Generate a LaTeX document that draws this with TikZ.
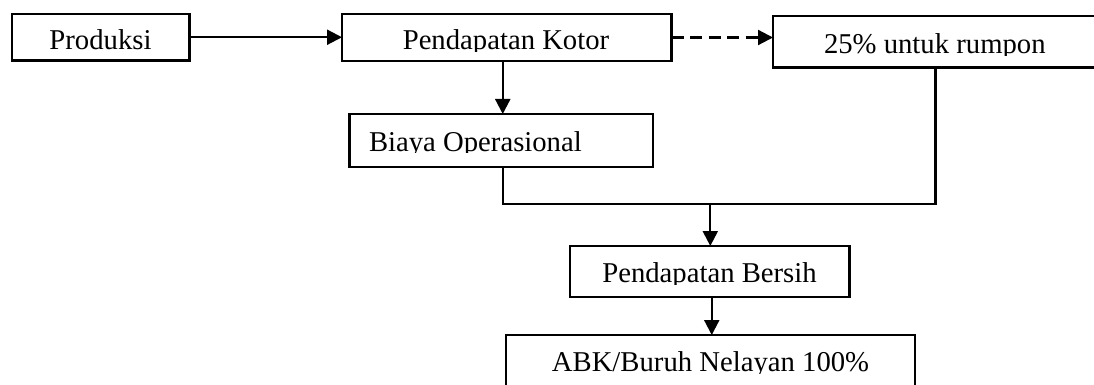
\documentclass[tikz,border=0pt]{standalone}
\usepackage{fontspec}
\setmainfont{Liberation Serif}
\usetikzlibrary{arrows.meta}
\tikzset{
  box/.style={draw, line width=2.2pt, inner sep=0pt, outer sep=0pt, anchor=north west},
  txt/.style={inner sep=0pt, outer sep=0pt, font=\fontsize{28.7pt}{32pt}\selectfont},
  conn/.style={line width=2.2pt},
  arr/.style={conn, -{Triangle[length=15pt,width=15pt]}},
  dashline/.style={dash pattern=on 12pt off 6.5pt}
}
\newcommand\clippedtext[5]{% name, x, baseline y, clip y, anchor ; text in #5
  \begin{scope}
    \clip (0,0) rectangle (1094,#4);
    \node[txt, anchor=#1] (#2) at #3 {#5};
  \end{scope}}
\begin{document}
\begin{tikzpicture}[x=1pt,y=-1pt]
\useasboundingbox (0,0) rectangle (1094,385);
\fill[white] (0,0) rectangle (1094,385);
\clip (0,0) rectangle (1094,385);

% boxes
\node[box, minimum width=177.5pt, minimum height=46.5pt] (prod) at (12,14) {};
\node[box, minimum width=329.5pt, minimum height=47pt] (kotor) at (342,14) {};
\node[box, minimum width=337pt, minimum height=51.5pt] (rump) at (773,16) {};
\node[box, minimum width=303.5pt, minimum height=53pt] (biaya) at (349.5,114) {};
\node[box, minimum width=279.5pt, minimum height=51pt] (bersih) at (570,246) {};
\node[box, minimum width=409pt, minimum height=65pt] (abk) at (506,335) {};

% texts (clipped just below the baseline, as in the reference)
\clippedtext{base}{prodT}{(100.5,49.3)}{50.6}{Produksi}
\clippedtext{base}{kotorT}{(506,50)}{51.2}{Pendapatan Kotor}
\clippedtext{base west}{rumpT}{(824,53.5)}{55.2}{25\% untuk rumpon}
\clippedtext{base west}{biayaT}{(369,151)}{152.8}{Biaya Operasional}
\clippedtext{base}{bersihT}{(709.5,282.3)}{284}{Pendapatan Bersih}
\clippedtext{base}{abkT}{(710.5,371.7)}{373.6}{ABK/Buruh Nelayan 100\%}

% junction coordinates
\coordinate (jr) at (935.5,204);
\coordinate (jm) at (710.3,204);

% connectors
\draw[arr] (prod.east) -- (prod.east -| kotor.west);
\draw[arr, dashline] (kotor.east) -- (kotor.east -| rump.west);
\draw[arr] ([xshift=-4pt]kotor.south) -- ([xshift=-4pt]kotor.south |- biaya.north);
\draw[conn] ([xshift=1.5pt]biaya.south) |- (jr) -- (jr |- rump.south);
\draw[arr] (jm) -- (jm |- bersih.north);
\draw[arr] ([xshift=2pt]bersih.south) -- ([xshift=2pt]bersih.south |- abk.north);
\end{tikzpicture}
\end{document}
